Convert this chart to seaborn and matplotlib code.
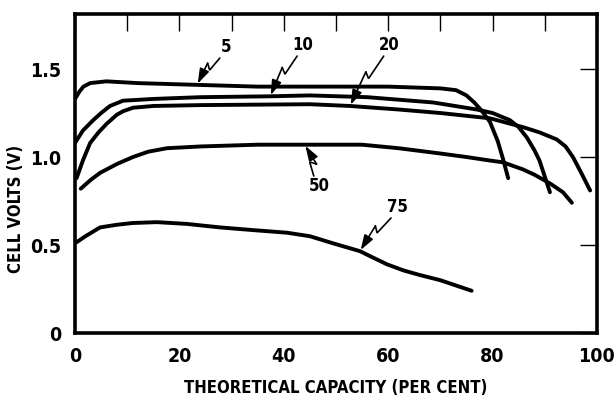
import numpy as np
import pandas as pd
import matplotlib
matplotlib.use("Agg")
import matplotlib.pyplot as plt
import seaborn as sns

# Discharge curves: cell voltage vs. theoretical capacity, one per discharge rate
rate_labels = ["5", "10", "20", "50", "75"]

cap_5 = [0, 0.8, 1.6, 2.9, 6, 12, 23.4, 35, 50, 60, 70, 73, 75, 76.5, 78, 79.5, 81, 82, 83]
volt_5 = [1.33, 1.37, 1.40, 1.42, 1.43, 1.42, 1.41, 1.40, 1.40, 1.40, 1.39, 1.38, 1.35, 1.31,
          1.26, 1.20, 1.09, 0.99, 0.88]

cap_10 = [0, 1.5, 3.5, 5, 6.7, 9.2, 15, 24, 37.4, 45, 56, 68.6, 77, 80, 83.3, 85, 86.6, 88, 89, 90, 91]
volt_10 = [1.08, 1.15, 1.21, 1.25, 1.29, 1.32, 1.33, 1.34, 1.345, 1.35, 1.34, 1.31, 1.27, 1.25,
           1.21, 1.17, 1.11, 1.04, 0.98, 0.89, 0.80]

cap_20 = [0.3, 1.5, 2.9, 4.5, 6.1, 8, 9.2, 11.1, 15, 24, 45, 52.7, 62, 70, 79.5, 85.8, 89, 92.3,
          94, 95.4, 97, 98.7]
volt_20 = [0.88, 0.98, 1.08, 1.14, 1.19, 1.24, 1.26, 1.28, 1.29, 1.295, 1.30, 1.29, 1.27, 1.25,
           1.22, 1.17, 1.14, 1.10, 1.06, 1.00, 0.91, 0.81]

cap_50 = [1.1, 3, 4.8, 8, 11.1, 14, 17.6, 24, 35, 44, 55, 62, 70, 75, 79.5, 82, 85.8, 88, 91, 93.5, 95.2]
volt_50 = [0.82, 0.87, 0.91, 0.96, 1.00, 1.03, 1.05, 1.06, 1.07, 1.07, 1.07, 1.05, 1.02, 1.00,
           0.98, 0.97, 0.93, 0.90, 0.85, 0.80, 0.74]

cap_75 = [0, 2, 4.8, 8, 11, 15.7, 21.4, 27.8, 34, 40.6, 45, 49.4, 54.6, 57, 59.8, 63, 66, 70, 73, 76]
volt_75 = [0.51, 0.55, 0.60, 0.615, 0.625, 0.63, 0.62, 0.60, 0.585, 0.57, 0.55, 0.51, 0.465,
           0.43, 0.39, 0.355, 0.33, 0.30, 0.27, 0.24]

x_ticks_major = [0, 20, 40, 60, 80, 100]
x_tick_labels = ["0", "20", "40", "60", "80", "100"]
x_ticks_minor = [10, 30, 50, 70, 90]
y_ticks = [0, 0.5, 1.0, 1.5]
y_tick_labels = ["0", "0.5", "1.0", "1.5"]

# Where each rate label sits (data coords) and the capacity its arrow points at
label_pos = {"5": (28.9, 1.625), "10": (43.7, 1.636), "20": (60.3, 1.636),
             "50": (46.9, 0.835), "75": (61.7, 0.716)}
arrow_tip_cap = {"5": 23.4, "10": 37.4, "20": 52.7, "50": 44.0, "75": 54.6}

curves = {"5": (cap_5, volt_5), "10": (cap_10, volt_10), "20": (cap_20, volt_20),
          "50": (cap_50, volt_50), "75": (cap_75, volt_75)}

frames = []
for name in rate_labels:
    c, v = curves[name]
    frames.append(pd.DataFrame({"capacity": c, "volts": v, "rate": name}))
df = pd.concat(frames, ignore_index=True)

sns.set_style("white")
plt.rcParams["font.family"] = ["DejaVu Sans"]
plt.rcParams["font.stretch"] = "condensed"
plt.rcParams["font.weight"] = "bold"
plt.rcParams["text.color"] = "black"
plt.rcParams["axes.labelcolor"] = "black"
plt.rcParams["xtick.color"] = "black"
plt.rcParams["ytick.color"] = "black"

fig = plt.figure(figsize=(6.16, 4.04), dpi=100)
ax = fig.add_axes([0.1218, 0.1757, 0.969 - 0.1218, 0.9653 - 0.1757])

sns.lineplot(data=df, x="capacity", y="volts", hue="rate", units="rate",
             estimator=None, sort=False, palette=["black"] * len(rate_labels),
             legend=False, linewidth=2.8, ax=ax,
             solid_capstyle="round", solid_joinstyle="round")

ax.set_xlim(0, 100)
ax.set_ylim(0, 1.8125)

for s in ax.spines.values():
    s.set_visible(True)
    s.set_linewidth(2.6)
    s.set_color("black")

ax.set_xticks(x_ticks_major)
ax.set_xticklabels(x_tick_labels)
ax.set_xticks(x_ticks_minor, minor=True)
ax.set_yticks(y_ticks)
ax.set_yticklabels(y_tick_labels)
ax.tick_params(which="both", direction="in", length=12, width=1.0, color="black",
               labelcolor="black", top=True, right=True, labelsize=14, pad=10)
for lab in ax.get_xticklabels() + ax.get_yticklabels():
    lab.set_fontweight("bold")
    lab.set_fontstretch("condensed")

ax.set_xlabel("THEORETICAL CAPACITY (PER CENT)", fontsize=12, fontweight="bold",
              fontstretch="condensed", color="black")
ax.set_ylabel("CELL VOLTS (V)", fontsize=12, fontweight="bold", fontstretch="condensed",
              color="black")
ax.xaxis.set_label_coords(0.5, -0.145)
ax.yaxis.set_label_coords(-0.095, 0.39)


def to_px(pt):
    return ax.transData.transform(pt)


def to_data(px):
    return ax.transData.inverted().transform(px)


# Lightning-bolt leader arrows from each rate label to its curve
for name in rate_labels:
    lx, ly = label_pos[name]
    c, v = curves[name]
    tx = arrow_tip_cap[name]
    ty = float(np.interp(tx, c, v))
    ax.text(lx, ly, name, ha="center", va="center", fontsize=12, fontweight="bold",
            fontstretch="condensed", color="black")
    tip = to_px((tx, ty))
    lab = to_px((lx, ly))
    above = ly > ty
    start = lab + np.array([-6.0, -11.0 if above else 10.0])
    d = tip - start
    L = np.hypot(*d)
    u = d / L
    n = np.array([u[1], -u[0]])
    a = start + 0.45 * L * u
    b = a - 4.0 * u + 6.0 * n
    pts = np.array([to_data(p) for p in (start, a, b)])
    ax.plot(pts[:, 0], pts[:, 1], color="black", lw=1.2, solid_joinstyle="miter")
    ax.annotate("", xy=(tx, ty), xytext=tuple(pts[-1]),
                arrowprops=dict(arrowstyle="-|>,head_length=0.9,head_width=0.3",
                                color="black", lw=1.2, shrinkA=0, shrinkB=1))

fig.savefig("out.png", dpi=100)
